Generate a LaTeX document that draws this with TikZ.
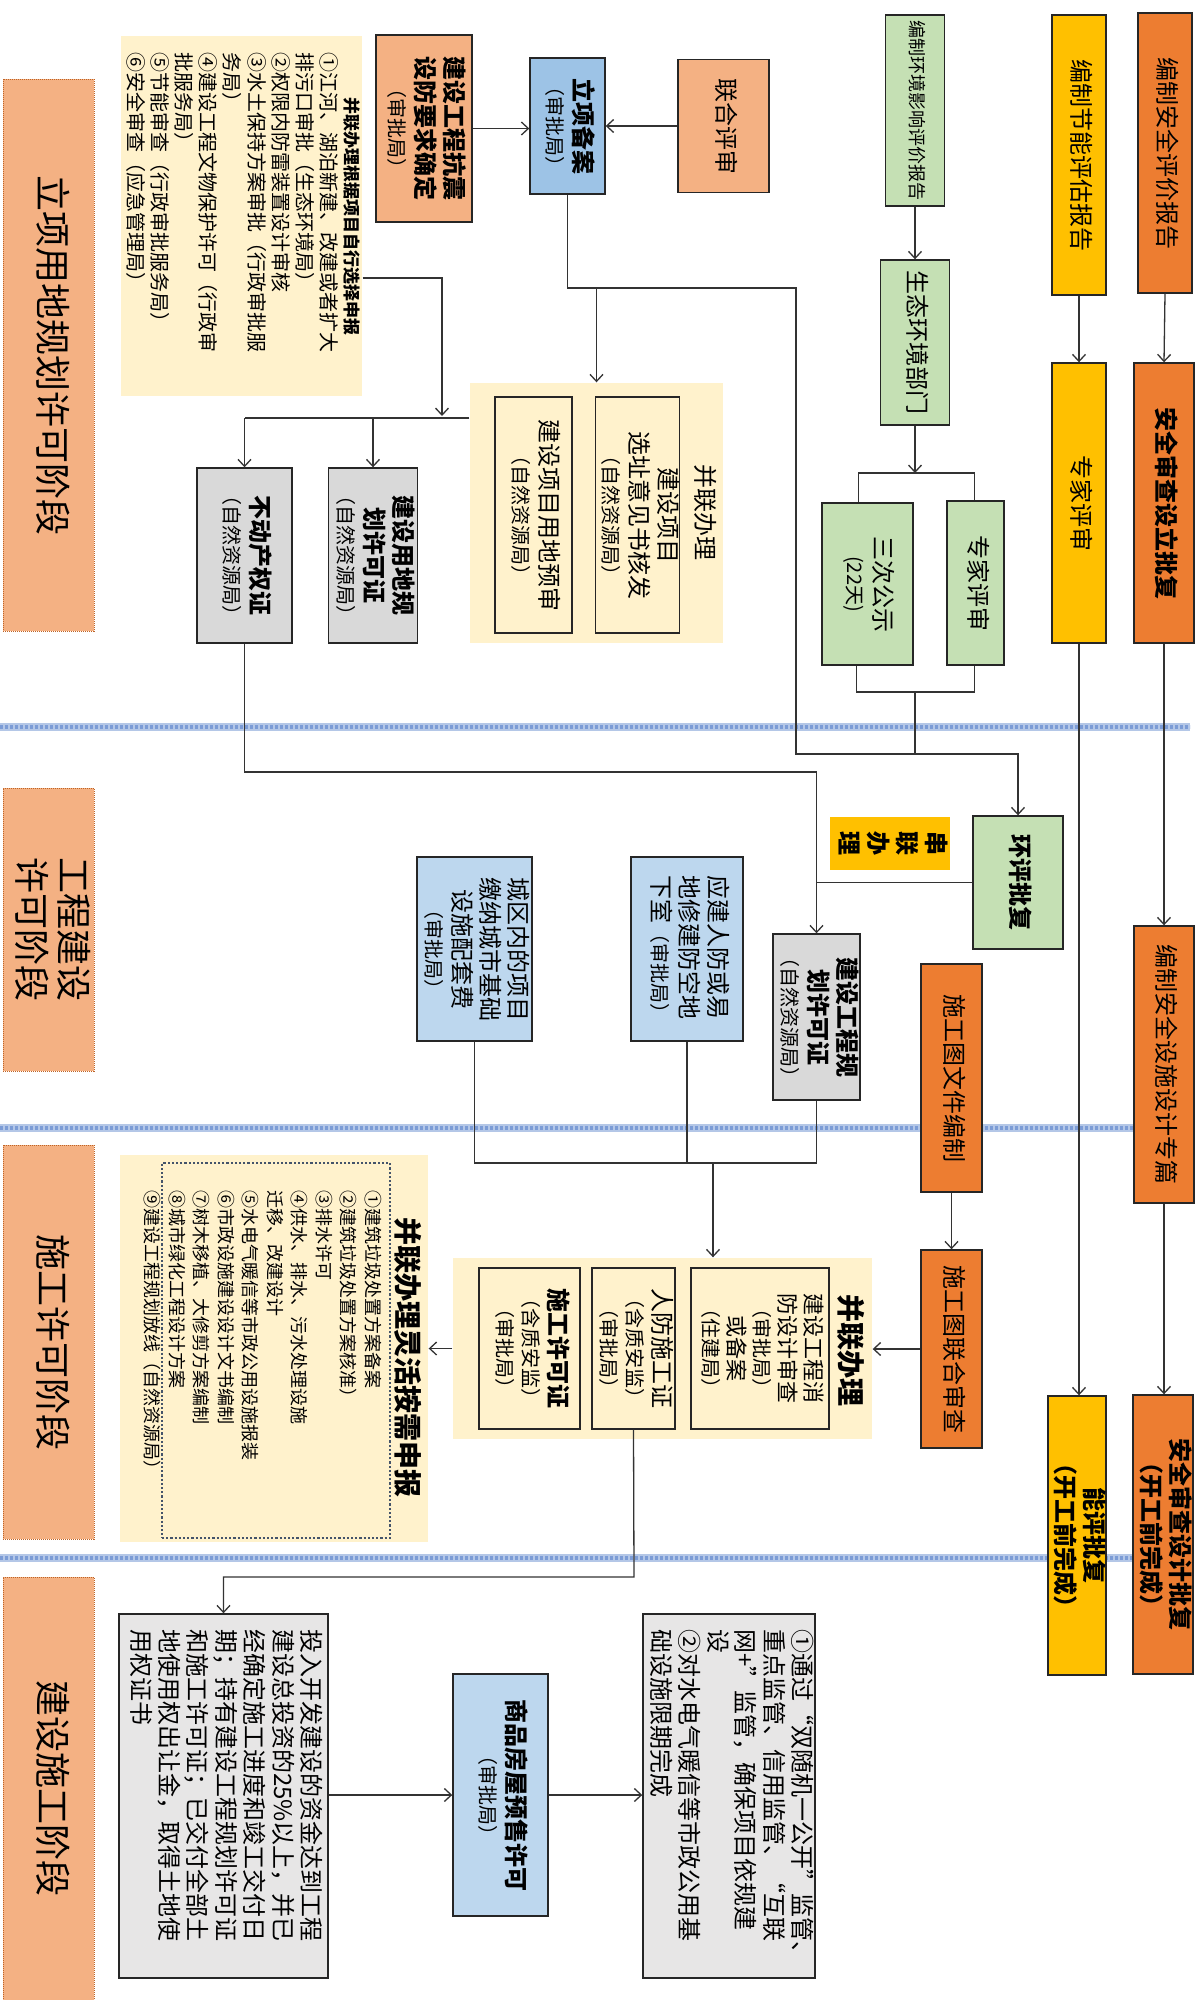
\documentclass[tikz,border=0pt]{standalone}
\usepackage{fontspec}
\setmainfont{Noto Sans CJK SC}
\usepackage{graphicx}
\usepackage{array}
\usetikzlibrary{arrows.meta}
\definecolor{salmon}{HTML}{F4B183}
\definecolor{blueA}{HTML}{9DC3E6}
\definecolor{blueB}{HTML}{BDD7EE}
\definecolor{greyA}{HTML}{D9D9D9}
\definecolor{greyB}{HTML}{E7E6E6}
\definecolor{cream}{HTML}{FFF2CC}
\definecolor{greenA}{HTML}{C5E0B4}
\definecolor{yellowA}{HTML}{FFC000}
\definecolor{orangeA}{HTML}{ED7D31}
\definecolor{navy}{HTML}{44546A}
\definecolor{sepL}{HTML}{B4C7E7}
\definecolor{sepD}{HTML}{4472C4}
\newcommand\vt[2][c]{\rotatebox{-90}{\begin{tabular}{@{}#1@{}}#2\end{tabular}}}
\newcommand\vtp[2]{\rotatebox{-90}{\begin{tabular}{@{}p{#1}@{}}#2\end{tabular}}}
\newcommand\fa{\fontsize{24}{27}\selectfont}
\newcommand\fs{\fontsize{20}{22}\selectfont}
\newcommand\fm{\fontsize{20}{22}\selectfont}
\newcommand\fc{\fontsize{36}{40}\selectfont}
\tikzset{
  bx/.style={draw=black!85, line width=1.4pt, inner sep=0pt, font=\fa},
  phase/.style={fill=salmon, draw=orangeA!80!black, densely dotted, line width=1pt, inner sep=0pt, font=\fc},
  ln/.style={line width=1.3pt, draw=black!80},
  arr/.style={line width=1.3pt, draw=black!80, -{Straight Barb[length=7pt,width=13pt]}},
  sepa/.style={line width=8pt, draw=sepL},
  sepb/.style={line width=4pt, draw=sepD!70, dash pattern=on 3pt off 2pt},
}
\begin{document}
\begin{tikzpicture}[x=1pt,y=-1pt]
\useasboundingbox[fill=white] (0,0) rectangle (1200,2000);
% separators
\foreach \yy in {727,1128,1558}{
  \draw[sepa] (0,\yy) -- (1190,\yy);
  \draw[sepb] (0,\yy) -- (1190,\yy);
}
% phase labels
\node[phase, minimum width=91pt, minimum height=552pt] (p1) at (48.5,355) {\vt{立项用地规划许可阶段}};
\node[phase, minimum width=91pt, minimum height=283pt] (p2) at (48.5,929.5) {\vt{工程建设\\许可阶段}};
\node[phase, minimum width=91pt, minimum height=394pt] (p3) at (48.5,1342) {\vt{施工许可阶段}};
\node[phase, minimum width=91pt, minimum height=423pt] (p4) at (48.5,1788.5) {\vt{建设施工阶段}};

% ---------- phase 1 ----------
\node[bx, fill=cream, draw=none, minimum width=241pt, minimum height=360pt, font=\fontsize{20}{23.5}\selectfont] (L1) at (241.5,216)
 {\vtp{328pt}{\multicolumn{1}{@{}c@{}}{\fontsize{17}{23.5}\selectfont\bfseries 并联办理根据项目自行选择申报}\\
 ①江河、湖泊新建、改建或者扩大\\
 排污口审批（生态环境局）\\
 ②权限内防雷装置设计审核\\
 ③水土保持方案审批（行政审批服\\
 务局）\\
 ④建设工程文物保护许可（行政审\\
 批服务局）\\
 ⑤节能审查（行政审批服务局）\\
 ⑥安全审查（应急管理局）}};
\node[bx, fill=salmon, minimum width=96pt, minimum height=187pt] (KZ) at (424,128.5)
 {\vt{\bfseries 建设工程抗震\\\bfseries 设防要求确定\\\fs（审批局）}};
\node[bx, fill=blueA, minimum width=75pt, minimum height=136pt] (LX) at (567.5,126)
 {\vt{\bfseries 立项备案\\\fs（审批局）}};
\node[bx, fill=salmon, minimum width=91pt, minimum height=133pt] (LH) at (723.5,126)
 {\vt{联合评审}};

\node[bx, fill=cream, draw=none, minimum width=253pt, minimum height=260pt] (BL1) at (596.5,513) {};
\node[font=\fa, inner sep=0pt] (BL1t) at (703,512) {\vt{并联办理}};
\node[bx, fill=cream, minimum width=77pt, minimum height=236pt] (YS) at (533.5,515)
 {\vt{建设项目用地预审\\\fs（自然资源局）}};
\node[bx, fill=cream, minimum width=83pt, minimum height=236pt] (XZ) at (637.5,515)
 {\vt{建设项目\\选址意见书核发\\\fs（自然资源局）}};

\node[bx, fill=greyA, minimum width=95pt, minimum height=175pt] (BDC) at (244.5,555.5)
 {\vt{\bfseries 不动产权证\\\fs（自然资源局）}};
\node[bx, fill=greyA, minimum width=89pt, minimum height=175pt] (YDGH) at (373,555.5)
 {\vt{\bfseries 建设用地规\\\bfseries 划许可证\\\fs（自然资源局）}};

% green column
\node[bx, fill=greenA, minimum width=59pt, minimum height=191pt, font=\fontsize{18}{22}\selectfont] (HP) at (915,110.5)
 {\vt{编制环境影响评价报告}};
\node[bx, fill=greenA, minimum width=69pt, minimum height=165pt] (ST) at (915,342.5)
 {\vt{生态环境部门}};
\node[bx, fill=greenA, minimum width=91pt, minimum height=162pt] (GS) at (867.5,584)
 {\vt{三次公示\\\fontsize{20}{22}\selectfont(22天)}};
\node[bx, fill=greenA, minimum width=57pt, minimum height=164pt] (ZJ1) at (975.5,583)
 {\vt{专家评审}};

% yellow column
\node[bx, fill=yellowA, minimum width=54pt, minimum height=280pt] (JN) at (1079,155)
 {\vt{编制节能评估报告}};
\node[bx, fill=yellowA, minimum width=54pt, minimum height=280pt] (ZJ2) at (1079,503)
 {\vt{专家评审}};
\node[bx, fill=yellowA, minimum width=56pt, minimum height=279pt] (NP) at (1077,1535.5)
 {\vt{\bfseries 能评批复\\\bfseries（开工前完成）}};

% orange column
\node[bx, fill=orangeA, minimum width=54pt, minimum height=280pt] (AQ) at (1165,153)
 {\vt{编制安全评价报告}};
\node[bx, fill=orangeA, minimum width=60pt, minimum height=280pt] (AS) at (1164,503)
 {\vt{\bfseries 安全审查设立批复}};
\node[bx, fill=orangeA, minimum width=60pt, minimum height=277pt] (AZ) at (1164,1064.5)
 {\vt{编制安全设施设计专篇}};
\node[bx, fill=orangeA, minimum width=60pt, minimum height=279pt] (AP) at (1163,1534.5)
 {\vt{\bfseries 安全审查设计批复\\\bfseries（开工前完成）}};

% ---------- phase 2 ----------
\node[bx, fill=greenA, minimum width=90pt, minimum height=133pt] (HPPF) at (1018,882.5)
 {\vt{\bfseries 环评批复}};
\node[bx, fill=yellowA, draw=none, minimum width=120pt, minimum height=53pt, font=\fontsize{24}{29}\selectfont] (CL) at (890,843.5)
 {\vt{\bfseries 串\\\bfseries 联\\\bfseries 办\\\bfseries 理}};
\node[bx, fill=orangeA, minimum width=61pt, minimum height=228pt] (SGT) at (951.5,1078)
 {\vt{施工图文件编制}};
\node[bx, fill=orangeA, minimum width=61pt, minimum height=198pt] (SGL) at (951.5,1349)
 {\vt{施工图联合审查}};
\node[bx, fill=blueB, minimum width=115pt, minimum height=184pt, font=\fontsize{24}{26.5}\selectfont] (CQ) at (474.5,949)
 {\vt{城区内的项目\\缴纳城市基础\\设施配套费\\\fs（审批局）}};
\node[bx, fill=blueB, minimum width=112pt, minimum height=184pt] (RF) at (687,949)
 {\vt[l]{应建人防或易\\地修建防空地\\下室{\fs（审批局）}}};
\node[bx, fill=greyA, minimum width=87pt, minimum height=166pt] (GC) at (816.5,1017)
 {\vt{\bfseries 建设工程规\\\bfseries 划许可证\\\fs（自然资源局）}};

% ---------- phase 3 ----------
\node[bx, fill=cream, draw=none, minimum width=419pt, minimum height=181pt] (BL2) at (662.5,1348.5) {};
\node[font=\fontsize{28}{30}\selectfont\bfseries, inner sep=0pt] (BL2t) at (848,1350) {\vt{并联办理}};
\node[bx, fill=cream, minimum width=138pt, minimum height=161pt, font=\fontsize{22}{25}\selectfont] (XF) at (760,1348.5)
 {\vt{建设工程消\\防设计审查\\\fs（审批局）\\或备案\\\fs（住建局）}};
\node[bx, fill=cream, minimum width=83pt, minimum height=161pt, font=\fontsize{24}{26}\selectfont] (RFS) at (633.5,1348.5)
 {\vt{人防施工证\\\fm（含质安监）\\\fm（审批局）}};
\node[bx, fill=cream, minimum width=101pt, minimum height=161pt, font=\fontsize{24}{26}\selectfont] (SGX) at (529.5,1348.5)
 {\vt{\bfseries 施工许可证\\\fm（含质安监）\\\fm（审批局）}};

\node[bx, fill=cream, draw=none, minimum width=308pt, minimum height=387pt] (LH2) at (274,1348.5) {};
\node[draw=navy, line width=2.2pt, dotted, minimum width=228pt, minimum height=375pt, inner sep=0pt] (LH2in) at (276,1350.5) {};
\node[font=\fontsize{28}{30}\selectfont\bfseries, inner sep=0pt] (LH2t) at (405,1357) {\vt{并联办理灵活按需申报}};
\node[font=\fontsize{18}{24.5}\selectfont, inner sep=0pt] (LH2x) at (261,1360) {\vtp{340pt}{
 ①建筑垃圾处置方案备案\\
 ②建筑垃圾处置方案核准）\\
 ③排水许可\\
 ④供水、排水、污水处理设施\\
 迁移、改建设计\\
 ⑤水电气暖信等市政公用设施报装\\
 ⑥市政设施建设设计文书编制\\
 ⑦树木移植、大修剪方案编制\\
 ⑧城市绿化工程设计方案\\
 ⑨建设工程规划放线（自然资源局）}};

% ---------- phase 4 ----------
\node[bx, fill=greyB, minimum width=209pt, minimum height=364pt, font=\fontsize{24}{27}\selectfont] (GB1) at (223.5,1796)
 {\vtp{334pt}{投入开发建设的资金达到工程\\
 建设总投资的25\%以上，并已\\
 经确定施工进度和竣工交付日\\
 期；持有建设工程规划许可证\\
 和施工许可证；已交付全部土\\
 地使用权出让金，取得土地使\\
 用权证书}};
\node[bx, fill=blueB, minimum width=95pt, minimum height=242pt] (SP) at (500.5,1795)
 {\vt{\bfseries 商品房屋预售许可\\\fs（审批局）}};
\node[bx, fill=greyB, minimum width=172pt, minimum height=364pt, font=\fontsize{24}{27}\selectfont] (GB2) at (729,1796)
 {\vtp{334pt}{①通过“双随机一公开”监管、\\
 重点监管、信用监管、“互联\\
 网+”监管，确保项目依规建\\
 设\\
 ②对水电气暖信等市政公用基\\
 础设施限期完成}};

% ---------- connectors ----------
\coordinate (j1) at (567.5,288);
\coordinate (h421) at (442,418);
\coordinate (a278) at (442,278);
\coordinate (st1) at (915,473);
\coordinate (gm) at (915,692);
\coordinate (y752) at (796,754);
\coordinate (c770) at (816.5,772);
\coordinate (m2) at (713,1163);
\coordinate (m3) at (634,1577);

\draw[arr] (LH.west) -- (LX.east |- LH.west);
\draw[arr] (KZ.east) -- (LX.west |- KZ.east);
\draw[arr] (LX.south) -- (j1) -- (796,288) -- (y752) -| (HPPF.north);
\draw[arr] (BL1.north |- j1) -- (BL1.north);
\draw[arr] (L1.east |- a278) -| ([yshift=2pt]h421);
\draw[ln] (BL1.west |- h421) -- (BDC.north |- h421);
\draw[arr] (BDC.north |- h421) -- (BDC.north);
\draw[arr] (YDGH.north |- h421) -- (YDGH.north);

\draw[arr] (HP.south) -- (ST.north);
\draw[arr] (ST.south) -- (st1);
\draw[ln] ([xshift=-9pt]GS.north) |- (st1) -| ([xshift=-1pt]ZJ1.north);
\draw[ln] ([xshift=-11pt]GS.south) |- (gm) -| ([xshift=-1pt]ZJ1.south);
\draw[ln] (gm) -- (gm |- y752);

\draw[arr] (JN.south) -- (ZJ2.north);
\draw[arr] (AQ.south) -- (AS.north);
\draw[arr] (ZJ2.south) -- (ZJ2.south |- NP.north);
\draw[arr] (AS.south) -- (AZ.north);
\draw[arr] (AZ.south) -- (AZ.south |- AP.north);

\draw[arr] (BDC.south) |- (c770) -- (GC.north);
\draw[ln] (HPPF.west) -- (HPPF.west -| GC.north);

\draw[ln] (CQ.south) |- (GC.south |- m2) -- (GC.south);
\draw[ln] (RF.south) -- (RF.south |- m2);
\draw[arr] (m2) -- (m2 |- BL2.north);
\draw[arr] (SGT.south) -- (SGL.north);
\draw[arr] (SGL.west) -- (BL2.east |- SGL.west);
\draw[arr] (BL2.west) -- (LH2.east |- BL2.west);
\draw[arr] (RFS.south) -- (m3) -| (GB1.north);
\draw[arr] (GB1.east |- SP.west) -- (SP.west);
\draw[arr] (SP.east) -- (GB2.west |- SP.east);
\end{tikzpicture}
\end{document}
